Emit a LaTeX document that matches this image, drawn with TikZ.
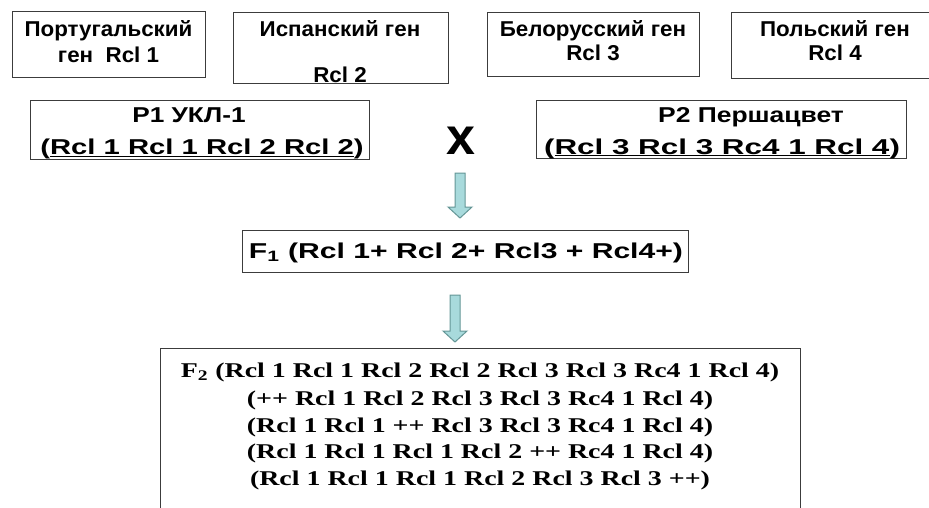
\documentclass[tikz,border=0pt]{standalone}
\usepackage{fontspec}
\usepackage{graphicx}
\setmainfont{Liberation Sans}
\newfontfamily\timesf{Liberation Serif}
\usetikzlibrary{calc}
\definecolor{boxline}{RGB}{60,60,60}
\definecolor{arrfill}{RGB}{168,218,220}
\definecolor{arrline}{RGB}{100,150,150}
\newcommand{\hs}[2]{\scalebox{#1}[1]{#2}}
\tikzset{
  genebox/.style={draw=boxline, line width=0.9pt},
  txt/.style={anchor=base, inner sep=0pt, font=\fontsize{21.5}{21.5}\selectfont\bfseries},
  ftxt/.style={anchor=base, inner sep=0pt, font=\fontsize{21}{21}\selectfont\timesf\bfseries},
  blockarrow/.style={fill=arrfill, draw=arrline, line width=1pt, line join=miter}
}
\begin{document}
\begin{tikzpicture}[x=1pt,y=-1pt]
\useasboundingbox (0,0) rectangle (929,508);
\clip (0,0) rectangle (929,508);
% top gene boxes
\draw[genebox] (12,11) rectangle (205,77);
\node[txt] (g1a) at (108.5,37) {\hs{1.04}{Португальский}};
\node[txt] (g1b) at (108.5,63) {\hs{1.04}{ген\ \ Rcl 1}};
\draw[genebox] (233,12) rectangle (448,83);
\node[txt] (g2a) at (340,37) {\hs{1.04}{Испанский ген}};
\node[txt] (g2b) at (340,82.5) {\hs{1.04}{Rcl 2}};
\draw[genebox] (487,12) rectangle (699,76);
\node[txt] (g3a) at (593,37) {\hs{1.04}{Белорусский ген}};
\node[txt] (g3b) at (593,61) {\hs{1.04}{Rcl 3}};
\draw[genebox] (731,12) rectangle (945,78);
\node[txt] (g4a) at (835,37) {\hs{1.04}{Польский ген}};
\node[txt] (g4b) at (835,61) {\hs{1.04}{Rcl 4}};
% parents
\draw[genebox] (30,100) rectangle (369,159);
\node[txt] (p1a) at (189,123) {\hs{1.22}{Р1 УКЛ-1}};
\node[txt] (p1b) at (202,155) {\hs{1.36}{(\underline{Rcl 1 Rcl 1 Rcl 2 Rcl 2})}};
\node[anchor=base, inner sep=0pt, font=\fontsize{52}{52}\selectfont\bfseries] (x) at (461,155) {x};
\draw[genebox] (536,100) rectangle (906,158);
\node[txt] (p2a) at (751,123) {\hs{1.23}{Р2 Першацвет}};
\node[txt] (p2b) at (722,154) {\hs{1.46}{(\underline{Rcl 3 Rcl 3 Rc4 1 Rcl 4})}};
% arrow 1
\coordinate (a1t) at (460,173);
\coordinate (a1b) at (460,218);
\draw[blockarrow] ($(a1t)+(-5,0)$) -- ($(a1t)+(5,0)$) -- ($(a1b)+(5,-11)$) -- ($(a1b)+(12,-11)$)
  -- (a1b) -- ($(a1b)+(-12,-11)$) -- ($(a1b)+(-5,-11)$) -- cycle;
% F1
\draw[genebox] (242,230) rectangle (688,272);
\node[txt] (f1) at (466,258) {\hs{1.40}{F\textsubscript{1} (Rcl 1+ Rcl 2+ Rcl3 + Rcl4+)}};
% arrow 2
\coordinate (a2t) at (455,295);
\coordinate (a2b) at (455,342);
\draw[blockarrow] ($(a2t)+(-5,0)$) -- ($(a2t)+(5,0)$) -- ($(a2b)+(5,-11)$) -- ($(a2b)+(12,-11)$)
  -- (a2b) -- ($(a2b)+(-12,-11)$) -- ($(a2b)+(-5,-11)$) -- cycle;
% F2
\draw[genebox] (160,348) rectangle (800,530);
\node[ftxt] (f2a) at (480,377) {\hs{1.33}{F\textsubscript{2} (Rcl 1 Rcl 1 Rcl 2 Rcl 2 Rcl 3 Rcl 3 Rc4 1 Rcl 4)}};
\node[ftxt] (f2b) at (480,405) {\hs{1.33}{(++ Rcl 1 Rcl 2 Rcl 3 Rcl 3 Rc4 1 Rcl 4)}};
\node[ftxt] (f2c) at (480,432) {\hs{1.33}{(Rcl 1 Rcl 1 ++ Rcl 3 Rcl 3 Rc4 1 Rcl 4)}};
\node[ftxt] (f2d) at (480,458) {\hs{1.33}{(Rcl 1 Rcl 1 Rcl 1 Rcl 2 ++ Rc4 1 Rcl 4)}};
\node[ftxt] (f2e) at (480,485) {\hs{1.33}{(Rcl 1 Rcl 1 Rcl 1 Rcl 2 Rcl 3 Rcl 3 ++)}};
\end{tikzpicture}
\end{document}
